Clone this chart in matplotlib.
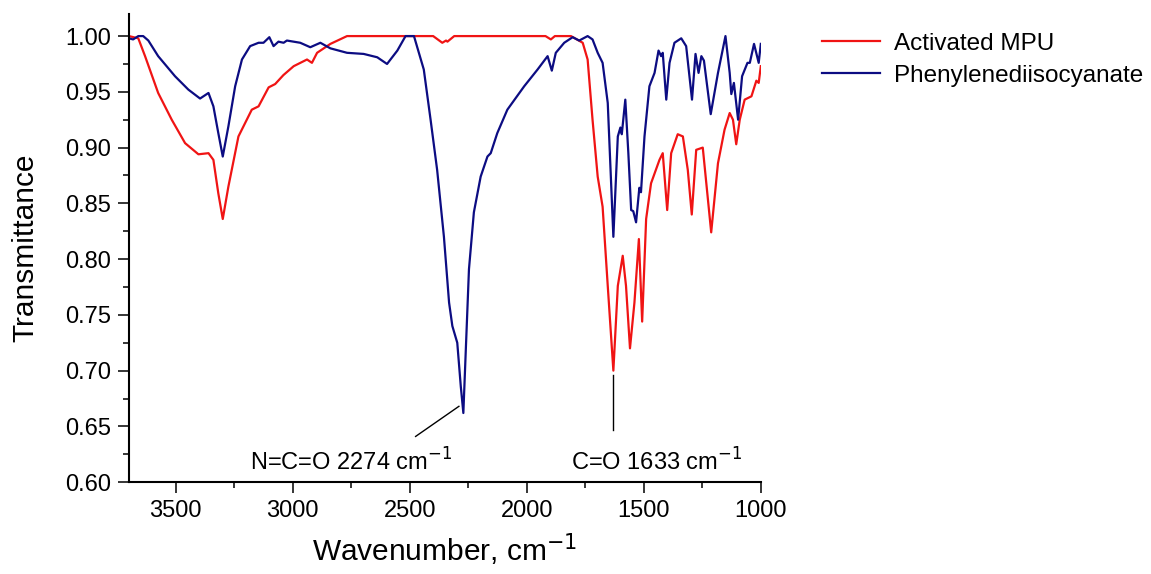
import numpy as np
import matplotlib.pyplot as plt

plt.rcParams['font.family'] = ['Liberation Sans', 'DejaVu Sans']

# Activated MPU (wavenumber, transmittance)
mpu_wn = [3700, 3660, 3631, 3575, 3517, 3460, 3403, 3360, 3339, 3318, 3299,
          3275, 3232, 3175, 3146, 3103, 3075, 3040, 2996, 2939, 2918, 2896,
          2839, 2768, 2400, 2361, 2345, 2339, 2310, 1920, 1897, 1880, 1811,
          1761, 1740, 1719, 1697, 1676, 1654, 1630, 1611, 1590, 1576, 1559,
          1540, 1521, 1507, 1490, 1469, 1433, 1419, 1400, 1383, 1355, 1333,
          1312, 1295, 1276, 1248, 1212, 1183, 1155, 1133, 1119, 1105, 1090,
          1069, 1040, 1019, 1009, 1000]
mpu_t = [1.000, 0.998, 0.982, 0.949, 0.925, 0.904, 0.894, 0.895, 0.889, 0.859,
         0.836, 0.865, 0.910, 0.934, 0.937, 0.954, 0.957, 0.965, 0.973, 0.979,
         0.976, 0.985, 0.993, 1.000, 1.000, 0.994, 0.996, 0.995, 1.000, 1.000,
         0.997, 1.000, 1.000, 0.994, 0.979, 0.925, 0.874, 0.847, 0.776, 0.700,
         0.776, 0.803, 0.776, 0.720, 0.761, 0.818, 0.744, 0.836, 0.868, 0.889,
         0.895, 0.844, 0.895, 0.912, 0.910, 0.880, 0.840, 0.898, 0.900, 0.824,
         0.886, 0.916, 0.931, 0.925, 0.903, 0.925, 0.943, 0.946, 0.960, 0.958,
         0.973]

# Phenylenediisocyanate
pdi_wn = [3700, 3682, 3660, 3639, 3617, 3575, 3503, 3446, 3396, 3360, 3339,
          3318, 3299, 3275, 3246, 3217, 3182, 3146, 3125, 3100, 3082, 3061,
          3039, 3025, 2968, 2925, 2882, 2839, 2768, 2697, 2639, 2597, 2553,
          2518, 2482, 2440, 2411, 2383, 2354, 2332, 2318, 2297, 2282, 2271,
          2261, 2247, 2226, 2197, 2168, 2154, 2126, 2083, 2011, 1954, 1911,
          1893, 1876, 1840, 1804, 1776, 1740, 1719, 1697, 1676, 1654, 1630,
          1611, 1600, 1594, 1579, 1566, 1554, 1545, 1533, 1519, 1512, 1497,
          1476, 1454, 1437, 1426, 1419, 1404, 1390, 1369, 1340, 1319, 1294,
          1279, 1266, 1254, 1243, 1214, 1183, 1151, 1133, 1126, 1115, 1097,
          1080, 1057, 1047, 1029, 1009, 1000]
pdi_t = [0.998, 0.997, 1.000, 1.000, 0.996, 0.982, 0.964, 0.952, 0.944, 0.949,
         0.937, 0.913, 0.892, 0.919, 0.955, 0.979, 0.991, 0.994, 0.994, 0.999,
         0.991, 0.995, 0.994, 0.996, 0.994, 0.990, 0.994, 0.989, 0.985, 0.984,
         0.981, 0.975, 0.987, 1.000, 1.000, 0.970, 0.925, 0.880, 0.820, 0.761,
         0.740, 0.725, 0.686, 0.662, 0.716, 0.791, 0.842, 0.874, 0.892, 0.895,
         0.913, 0.934, 0.955, 0.970, 0.982, 0.969, 0.985, 0.994, 0.999, 0.996,
         1.000, 0.997, 0.985, 0.976, 0.940, 0.820, 0.910, 0.918, 0.912, 0.943,
         0.895, 0.844, 0.843, 0.833, 0.864, 0.860, 0.910, 0.955, 0.967, 0.987,
         0.982, 0.985, 0.943, 0.976, 0.994, 0.998, 0.991, 0.943, 0.984, 0.967,
         0.982, 0.978, 0.930, 0.967, 1.000, 0.967, 0.948, 0.958, 0.925, 0.964,
         0.976, 0.976, 0.993, 0.976, 0.993]

fig = plt.figure(figsize=(11.51, 5.74), dpi=100)
ax = fig.add_axes([0.112, 0.160, 0.549, 0.816])

ax.plot(mpu_wn, mpu_t, color='#f01414', lw=1.6, label='Activated MPU')
ax.plot(pdi_wn, pdi_t, color='#0c0c82', lw=1.6, label='Phenylenediisocyanate')

ax.set_xlim(3700, 1000)
ax.set_ylim(0.60, 1.02)
ax.set_xticks([3500, 3000, 2500, 2000, 1500, 1000])
ax.set_xticks(np.arange(3250, 1000, -500), minor=True)
ax.set_yticks(np.arange(0.60, 1.001, 0.05))
ax.set_yticks(np.arange(0.625, 1.0, 0.05), minor=True)
ax.yaxis.set_major_formatter(plt.FormatStrFormatter('%.2f'))

for s in ['top', 'right']:
    ax.spines[s].set_visible(False)
for s in ['left', 'bottom']:
    ax.spines[s].set_linewidth(1.5)
ax.tick_params(which='major', length=8, width=1.1, labelsize=17, pad=5)
ax.tick_params(which='minor', length=4.3, width=1.1)

ax.set_xlabel('Wavenumber, cm$^{-1}$', fontsize=21.5, labelpad=7)
ax.set_ylabel('Transmittance', fontsize=21.5, labelpad=18)

# peak annotations
ax.plot([2290, 2475], [0.668, 0.641], color='black', lw=1)
ax.plot([1632, 1632], [0.696, 0.647], color='black', lw=1)
ax.text(3182, 0.610, 'N=C=O 2274 cm$^{-1}$', fontsize=17, ha='left', va='baseline')
ax.text(1811, 0.610, 'C=O 1633 cm$^{-1}$', fontsize=17, ha='left', va='baseline')

fig.legend(loc='upper left', bbox_to_anchor=(0.714, 0.943), frameon=False,
           fontsize=17.5, handlelength=2.4, handletextpad=0.55, labelspacing=0.42,
           borderpad=0, borderaxespad=0)

plt.savefig('out.png', dpi=100)
